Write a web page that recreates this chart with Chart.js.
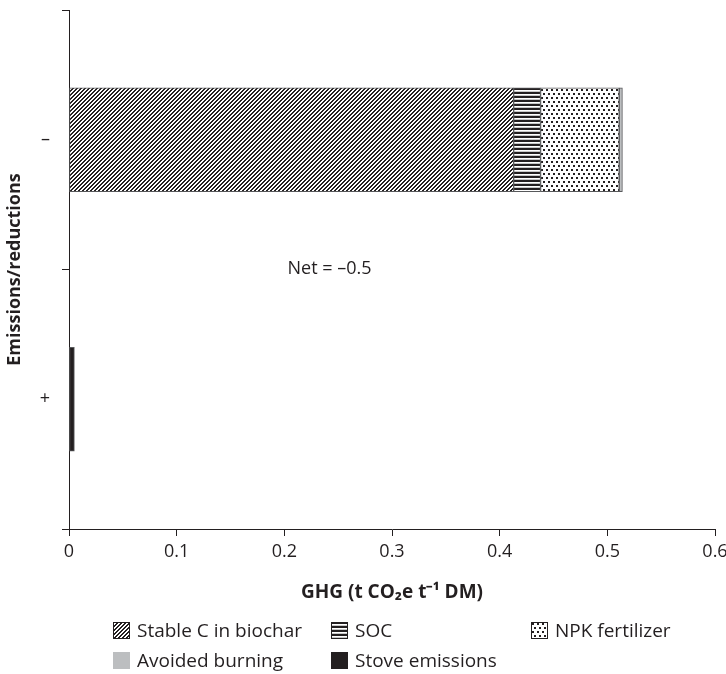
<!DOCTYPE html>
<html>
<head>
<meta charset="utf-8">
<script src="https://cdn.jsdelivr.net/npm/chart.js@4.4.0/dist/chart.umd.min.js"></script>
<style>
  body { margin: 0; background: #fff; font-family: 'Open Sans', sans-serif; color: #231f20; }
  #wrap { position: relative; width: 726px; height: 674px; overflow: hidden; }
  #chart { position: absolute; left: 0; top: 0; }
  .lg { position: absolute; font-size: 19px; display: flex; align-items: center; white-space: nowrap; height: 22px; }
  .lg canvas { margin-right: 7px; }
</style>
</head>
<body>
<div id="wrap">
  <canvas id="chart" width="726" height="674"></canvas>
  <div id="legend"></div>
</div>
<script>
// categories (top to bottom) and series values, t CO2e per t DM
const categories = ['–', '+'];
const stableC = [0.413, null];
const soc = [0.025, null];
const npk = [0.073, null];
const avoidedBurning = [0.003, null];
const stoveEmissions = [null, 0.005];
const xTicks = [0, 0.1, 0.2, 0.3, 0.4, 0.5, 0.6];
const netLabel = 'Net = –0.5';

const ink = '#231f20';

// fill patterns
function makePattern(w, h, dark) {
  const c = document.createElement('canvas');
  c.width = w; c.height = h;
  const g = c.getContext('2d');
  g.fillStyle = '#fff';
  g.fillRect(0, 0, w, h);
  for (let y = 0; y < h; y++) {
    for (let x = 0; x < w; x++) {
      const col = dark(x, y);
      if (col) { g.fillStyle = col; g.fillRect(x, y, 1, 1); }
    }
  }
  return c;
}
const hatchTile = makePattern(4, 4, (x, y) => (x + y) % 4 < 2 ? ink : null);
const linesTile = makePattern(4, 4, (x, y) => y % 4 < 2 ? ink : (y % 4 === 3 ? '#c8c8c8' : null));
const dotAt = (x, y, dx, dy) => x >= dx && x <= dx + 1 && y >= dy && y <= dy + 1;
const dotsTile = makePattern(10, 8, (x, y) =>
  (dotAt(x, y, 1, 1) || dotAt(x, y, 6, 1) || dotAt(x, y, 3, 5) || dotAt(x, y, 8, 5)) ? ink : null);

const ctx = document.getElementById('chart').getContext('2d');
const hatch = ctx.createPattern(hatchTile, 'repeat');
const lines = ctx.createPattern(linesTile, 'repeat');
const dots = ctx.createPattern(dotsTile, 'repeat');

const series = [
  { label: 'Stable C in biochar', data: stableC, fill: hatch, tile: hatchTile },
  { label: 'SOC', data: soc, fill: lines, tile: linesTile },
  { label: 'NPK fertilizer', data: npk, fill: dots, tile: dotsTile },
  { label: 'Avoided burning', data: avoidedBurning, fill: '#bcbec0' },
  { label: 'Stove emissions', data: stoveEmissions, fill: ink }
];

const netText = {
  id: 'netText',
  afterDatasetsDraw(chart) {
    const { ctx, scales } = chart;
    const x = scales.x.getPixelForValue(0.203);
    const y = (scales.y.getPixelForValue(0) + scales.y.getPixelForValue(1)) / 2;
    ctx.save();
    ctx.font = "18px 'Open Sans'";
    ctx.fillStyle = ink;
    ctx.textBaseline = 'middle';
    ctx.fillText(netLabel, x, y - 1);
    ctx.restore();
  }
};

new Chart(ctx, {
  type: 'bar',
  data: {
    labels: categories,
    datasets: series.map(s => ({
      label: s.label,
      data: s.data,
      backgroundColor: s.fill,
      borderColor: '#58595b',
      borderWidth: 1,
      borderSkipped: false,
      barThickness: 104
    }))
  },
  options: {
    indexAxis: 'y',
    responsive: false,
    animation: false,
    layout: { padding: { top: 10, right: 11, bottom: 62, left: 0 } },
    plugins: {
      legend: { display: false },
      tooltip: { enabled: false }
    },
    scales: {
      x: {
        stacked: true,
        min: 0,
        max: 0.6,
        afterBuildTicks: s => { s.ticks = xTicks.map(v => ({ value: v })); },
        afterFit: s => { s.height = 83; s.paddingLeft = 0; s.paddingRight = 0; },
        grid: { drawOnChartArea: false, tickLength: 7, color: ink },
        border: { color: ink, width: 1 },
        ticks: {
          color: ink,
          padding: 5,
          font: { family: 'Open Sans', size: 18 },
          callback: v => String(v)
        },
        title: {
          display: true,
          text: 'GHG (t CO₂e t⁻¹ DM)',
          color: ink,
          font: { family: 'Open Sans', size: 19, weight: 'bold' },
          padding: { top: 0, bottom: 8 }
        }
      },
      y: {
        stacked: true,
        afterFit: s => { s.width = 69; s.paddingTop = 0; s.paddingBottom = 0; },
        grid: { drawOnChartArea: false, tickLength: 7, color: ink, offset: true },
        border: { color: ink, width: 1 },
        ticks: {
          color: ink,
          padding: 12,
          font: { family: 'Open Sans', size: 18 }
        },
        title: {
          display: true,
          text: 'Emissions/reductions',
          color: ink,
          font: { family: 'Open Sans', size: 18, weight: 'bold' },
          padding: { top: 4, bottom: 0 }
        }
      }
    }
  },
  plugins: [netText]
});

// legend laid out as in the original figure
const legendPos = [[113, 630], [331, 630], [531, 630], [113, 660], [331, 660]];
const legend = document.getElementById('legend');
series.forEach((s, i) => {
  const item = document.createElement('div');
  item.className = 'lg';
  item.style.left = legendPos[i][0] + 'px';
  item.style.top = (legendPos[i][1] - 11) + 'px';
  const sw = document.createElement('canvas');
  sw.width = 17; sw.height = 17;
  const g = sw.getContext('2d');
  g.fillStyle = s.tile ? g.createPattern(s.tile, 'repeat') : s.fill;
  g.fillRect(0, 0, 17, 17);
  if (s.tile) {
    g.strokeStyle = ink;
    g.lineWidth = 1;
    g.strokeRect(0.5, 0.5, 16, 16);
  }
  item.appendChild(sw);
  item.appendChild(document.createTextNode(s.label));
  legend.appendChild(item);
});
</script>
</body>
</html>
